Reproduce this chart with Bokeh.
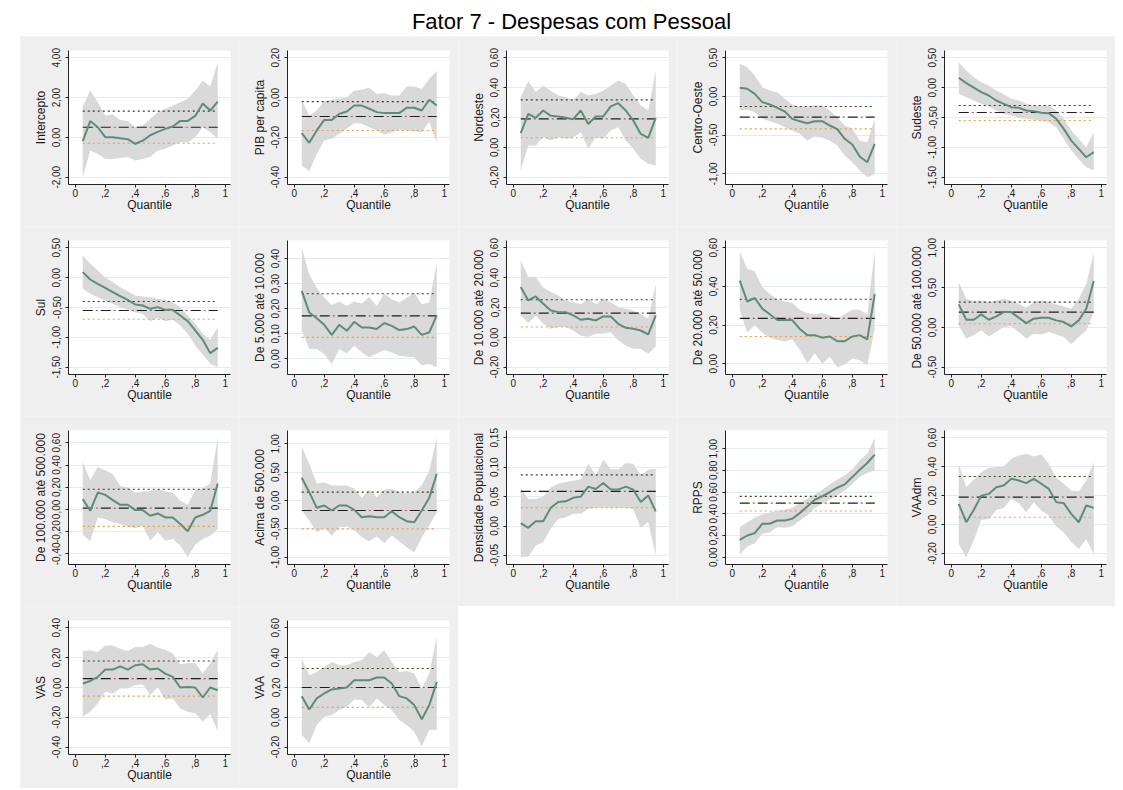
from bokeh.plotting import figure
from bokeh.layouts import column, row, Spacer
from bokeh.models import Range1d, FixedTicker, CustomJSTickFormatter, Label
from bokeh.embed import file_html
from bokeh.resources import INLINE

TITLE = "Fator 7 - Despesas com Pessoal"
quantiles = [0.05, 0.10, 0.15, 0.20, 0.25, 0.30, 0.35, 0.40, 0.45, 0.50,
             0.55, 0.60, 0.65, 0.70, 0.75, 0.80, 0.85, 0.90, 0.95]
x_ticks = [0, 0.2, 0.4, 0.6, 0.8, 1.0]

# ---- Intercepto
intercepto_coef = [-0.19, 0.82, 0.51, 0.01, 0.01, -0.04, -0.09, -0.32, -0.16, 0.11, 0.28, 0.43, 0.55, 0.83, 0.83, 1.08, 1.70, 1.35, 1.80]
intercepto_hi = [1.55, 2.36, 1.77, 1.10, 1.15, 0.88, 0.82, 0.51, 0.60, 0.93, 1.27, 1.44, 1.59, 1.77, 1.94, 2.36, 2.86, 2.56, 3.78]
intercepto_lo = [-2.0, -0.66, -0.83, -1.09, -1.08, -1.04, -0.99, -1.16, -1.08, -0.99, -0.66, -0.58, -0.41, -0.24, -0.26, 0.01, 0.51, 0.26, -0.07]
intercepto_ols = [0.51, -0.29, 1.32]
intercepto_ticks = [-2, 0, 2, 4]

# ---- PIB per capita
pib_coef = [-0.179, -0.227, -0.165, -0.112, -0.112, -0.082, -0.070, -0.040, -0.040, -0.056, -0.073, -0.078, -0.078, -0.078, -0.051, -0.051, -0.065, -0.011, -0.040]
pib_hi = [-0.015, -0.090, -0.065, -0.018, -0.009, -0.006, 0.002, 0.036, 0.040, 0.050, 0.019, 0.022, 0.010, 0.010, 0.056, 0.056, 0.044, 0.094, 0.133]
pib_lo = [-0.341, -0.370, -0.283, -0.216, -0.207, -0.182, -0.157, -0.128, -0.132, -0.149, -0.165, -0.185, -0.174, -0.162, -0.165, -0.169, -0.174, -0.123, -0.224]
pib_ols = [-0.095, -0.165, -0.020]
pib_ticks = [-0.4, -0.2, 0, 0.2]

# ---- Nordeste
nordeste_coef = [0.095, 0.225, 0.198, 0.247, 0.211, 0.207, 0.198, 0.189, 0.247, 0.157, 0.207, 0.207, 0.274, 0.296, 0.247, 0.180, 0.090, 0.064, 0.198]
nordeste_hi = [0.336, 0.444, 0.370, 0.415, 0.380, 0.347, 0.336, 0.318, 0.370, 0.347, 0.359, 0.380, 0.415, 0.448, 0.426, 0.347, 0.280, 0.247, 0.515]
nordeste_lo = [-0.155, 0.012, 0.012, 0.068, 0.046, 0.068, 0.057, 0.064, 0.102, -0.010, 0.068, 0.057, 0.113, 0.135, 0.046, -0.010, -0.077, -0.110, -0.122]
nordeste_ols = [0.191, 0.064, 0.318]
nordeste_ticks = [-0.2, 0, 0.2, 0.4, 0.6]

# ---- Centro-Oeste
centro_coef = [0.112, 0.100, 0.034, -0.073, -0.103, -0.147, -0.194, -0.289, -0.319, -0.345, -0.319, -0.319, -0.375, -0.422, -0.547, -0.620, -0.776, -0.849, -0.612]
centro_hi = [0.422, 0.379, 0.272, 0.121, 0.078, 0.056, -0.030, -0.103, -0.129, -0.129, -0.116, -0.116, -0.181, -0.267, -0.375, -0.418, -0.569, -0.590, -0.289]
centro_lo = [-0.181, -0.172, -0.203, -0.289, -0.319, -0.353, -0.397, -0.440, -0.483, -0.569, -0.517, -0.534, -0.569, -0.634, -0.763, -0.849, -0.957, -1.043, -1.000]
centro_ols = [-0.267, -0.418, -0.129]
centro_ticks = [-1.0, -0.5, 0, 0.5]

# ---- Sudeste
sudeste_coef = [0.165, 0.075, 0.000, -0.075, -0.131, -0.215, -0.271, -0.327, -0.338, -0.383, -0.394, -0.422, -0.427, -0.522, -0.690, -0.886, -1.025, -1.165, -1.080]
sudeste_hi = [0.427, 0.288, 0.176, 0.092, 0.036, -0.047, -0.115, -0.187, -0.215, -0.271, -0.299, -0.299, -0.299, -0.383, -0.522, -0.718, -0.858, -0.997, -0.746]
sudeste_lo = [-0.103, -0.159, -0.215, -0.271, -0.316, -0.383, -0.439, -0.466, -0.506, -0.522, -0.539, -0.550, -0.578, -0.662, -0.858, -1.053, -1.193, -1.332, -1.388]
sudeste_ols = [-0.416, -0.550, -0.299]
sudeste_ticks = [-1.5, -1.0, -0.5, 0, 0.5]

# ---- Sul
sul_coef = [0.092, -0.031, -0.103, -0.170, -0.243, -0.310, -0.372, -0.450, -0.466, -0.522, -0.494, -0.539, -0.539, -0.634, -0.729, -0.885, -1.042, -1.265, -1.176]
sul_hi = [0.371, 0.232, 0.120, 0.008, -0.075, -0.159, -0.226, -0.299, -0.316, -0.327, -0.355, -0.372, -0.411, -0.494, -0.634, -0.774, -0.941, -1.042, -0.830]
sul_lo = [-0.187, -0.271, -0.327, -0.383, -0.439, -0.494, -0.539, -0.578, -0.606, -0.729, -0.673, -0.729, -0.707, -0.802, -0.941, -1.137, -1.288, -1.444, -1.500]
sul_ols = [-0.550, -0.696, -0.399]
sul_ticks = [-1.5, -1.0, -0.5, 0, 0.5]

# ---- De 5.000 até 10.000
p5k_coef = [0.271, 0.185, 0.162, 0.136, 0.096, 0.136, 0.112, 0.148, 0.125, 0.125, 0.119, 0.143, 0.132, 0.115, 0.119, 0.129, 0.096, 0.106, 0.174]
p5k_hi = [0.443, 0.337, 0.284, 0.244, 0.215, 0.229, 0.211, 0.229, 0.221, 0.247, 0.211, 0.260, 0.238, 0.225, 0.244, 0.264, 0.218, 0.225, 0.383]
p5k_lo = [0.112, 0.040, 0.040, 0.020, -0.020, 0.040, 0.022, 0.053, 0.026, 0.007, 0.022, 0.036, 0.026, 0.013, 0.009, 0.007, -0.026, -0.020, -0.033]
p5k_ols = [0.172, 0.086, 0.260]
p5k_ticks = [0, 0.1, 0.2, 0.3, 0.4]

# ---- De 10.000 até 20.000
p10k_coef = [0.337, 0.247, 0.274, 0.225, 0.180, 0.169, 0.169, 0.147, 0.118, 0.125, 0.113, 0.140, 0.140, 0.091, 0.064, 0.058, 0.046, 0.020, 0.147]
p10k_hi = [0.515, 0.404, 0.404, 0.332, 0.303, 0.281, 0.247, 0.236, 0.221, 0.258, 0.221, 0.258, 0.236, 0.203, 0.192, 0.180, 0.158, 0.125, 0.359]
p10k_lo = [0.147, 0.096, 0.147, 0.091, 0.058, 0.069, 0.069, 0.046, 0.013, 0.002, 0.024, 0.024, 0.035, -0.021, -0.054, -0.076, -0.076, -0.110, -0.061]
p10k_ols = [0.162, 0.069, 0.252]
p10k_ticks = [-0.2, 0, 0.2, 0.4, 0.6]

# ---- De 20.000 até 50.000
p20k_coef = [0.430, 0.322, 0.340, 0.285, 0.256, 0.226, 0.226, 0.226, 0.180, 0.148, 0.148, 0.135, 0.141, 0.117, 0.117, 0.141, 0.148, 0.126, 0.361]
p20k_hi = [0.582, 0.491, 0.479, 0.397, 0.361, 0.334, 0.322, 0.316, 0.280, 0.262, 0.256, 0.262, 0.249, 0.231, 0.256, 0.280, 0.280, 0.253, 0.587]
p20k_lo = [0.280, 0.162, 0.199, 0.162, 0.135, 0.123, 0.117, 0.126, 0.072, 0.003, 0.054, 0.000, 0.036, -0.018, -0.004, 0.027, 0.018, -0.009, 0.180]
p20k_ols = [0.235, 0.141, 0.334]
p20k_ticks = [0, 0.2, 0.4, 0.6]

# ---- De 50.000 até 100.000
p50k_coef = [0.289, 0.096, 0.096, 0.163, 0.096, 0.138, 0.192, 0.192, 0.121, 0.054, 0.109, 0.121, 0.121, 0.088, 0.067, 0.013, 0.088, 0.234, 0.582]
p50k_hi = [0.569, 0.360, 0.331, 0.339, 0.318, 0.339, 0.360, 0.339, 0.297, 0.247, 0.318, 0.339, 0.318, 0.289, 0.264, 0.234, 0.360, 0.548, 0.933]
p50k_lo = [0.025, -0.142, -0.100, -0.038, -0.113, -0.059, 0.004, 0.013, -0.059, -0.142, -0.079, -0.088, -0.059, -0.088, -0.121, -0.213, -0.121, -0.038, 0.192]
p50k_ols = [0.192, 0.046, 0.318]
p50k_ticks = [-0.5, 0, 0.5, 1.0]

# ---- De 100.000 até 500.000
p100k_coef = [0.093, -0.012, 0.152, 0.131, 0.084, 0.042, 0.042, -0.006, -0.006, -0.057, -0.036, -0.072, -0.072, -0.131, -0.197, -0.072, -0.048, -0.012, 0.233]
p100k_hi = [0.430, 0.263, 0.382, 0.352, 0.316, 0.212, 0.197, 0.152, 0.161, 0.167, 0.182, 0.161, 0.152, 0.078, 0.042, 0.173, 0.191, 0.233, 0.645]
p100k_lo = [-0.227, -0.287, -0.072, -0.087, -0.116, -0.131, -0.155, -0.167, -0.146, -0.281, -0.206, -0.281, -0.266, -0.325, -0.430, -0.316, -0.266, -0.236, -0.176]
p100k_ols = [0.012, -0.152, 0.182]
p100k_ticks = [-0.4, -0.2, 0, 0.2, 0.4, 0.6]

# ---- Acima de 500.000
p500k_coef = [0.400, 0.147, -0.129, -0.088, -0.176, -0.088, -0.088, -0.165, -0.294, -0.276, -0.294, -0.294, -0.188, -0.294, -0.365, -0.382, -0.176, 0.047, 0.471]
p500k_hi = [0.953, 0.647, 0.294, 0.324, 0.265, 0.265, 0.265, 0.206, 0.047, 0.188, 0.059, 0.188, 0.206, 0.147, 0.129, 0.147, 0.265, 0.529, 1.106]
p500k_lo = [-0.176, -0.353, -0.559, -0.482, -0.618, -0.471, -0.459, -0.518, -0.647, -0.718, -0.635, -0.753, -0.618, -0.718, -0.824, -0.912, -0.647, -0.441, -0.206]
p500k_ols = [-0.176, -0.500, 0.147]
p500k_ticks = [-1.0, -0.5, 0, 0.5, 1.0]

# ---- Densidade Populacional
dens_coef = [0.005, -0.003, 0.008, 0.008, 0.031, 0.041, 0.042, 0.048, 0.050, 0.067, 0.063, 0.073, 0.062, 0.062, 0.067, 0.062, 0.041, 0.052, 0.025]
dens_hi = [0.065, 0.046, 0.046, 0.050, 0.066, 0.072, 0.075, 0.077, 0.079, 0.106, 0.086, 0.113, 0.097, 0.096, 0.107, 0.106, 0.086, 0.096, 0.097]
dens_lo = [-0.053, -0.052, -0.033, -0.027, -0.004, 0.012, 0.015, 0.021, 0.021, 0.029, 0.031, 0.031, 0.031, 0.031, 0.031, 0.029, -0.003, 0.007, -0.050]
dens_ols = [0.059, 0.031, 0.087]
dens_ticks = [-0.05, 0, 0.05, 0.10, 0.15]

# ---- RPPS
rpps_coef = [0.160, 0.200, 0.222, 0.308, 0.308, 0.338, 0.338, 0.354, 0.406, 0.468, 0.529, 0.560, 0.600, 0.640, 0.671, 0.738, 0.806, 0.868, 0.945]
rpps_hi = [0.277, 0.323, 0.363, 0.394, 0.415, 0.425, 0.437, 0.455, 0.498, 0.538, 0.578, 0.622, 0.671, 0.714, 0.754, 0.806, 0.892, 0.954, 1.100]
rpps_lo = [0.025, 0.098, 0.129, 0.215, 0.231, 0.277, 0.271, 0.283, 0.338, 0.385, 0.455, 0.492, 0.529, 0.569, 0.615, 0.671, 0.738, 0.775, 0.800]
rpps_ols = [0.498, 0.425, 0.560]
rpps_ticks = [0, 0.2, 0.4, 0.6, 0.8, 1.0]

# ---- VAAdm
vaadm_coef = [0.143, 0.016, 0.101, 0.200, 0.212, 0.258, 0.270, 0.316, 0.305, 0.286, 0.316, 0.282, 0.247, 0.155, 0.148, 0.074, 0.016, 0.132, 0.115]
vaadm_hi = [0.420, 0.258, 0.309, 0.362, 0.393, 0.397, 0.402, 0.455, 0.478, 0.490, 0.471, 0.485, 0.420, 0.323, 0.282, 0.235, 0.231, 0.305, 0.432]
vaadm_lo = [-0.134, -0.226, -0.111, 0.032, 0.039, 0.101, 0.115, 0.178, 0.148, 0.085, 0.155, 0.097, 0.062, -0.014, -0.053, -0.122, -0.169, -0.100, -0.203]
vaadm_ols = [0.189, 0.050, 0.332]
vaadm_ticks = [-0.2, 0, 0.2, 0.4, 0.6]

# ---- VAS
vas_coef = [0.027, 0.044, 0.071, 0.120, 0.120, 0.142, 0.120, 0.149, 0.156, 0.120, 0.127, 0.093, 0.071, 0.000, 0.004, 0.000, -0.067, 0.000, -0.018]
vas_hi = [0.244, 0.249, 0.238, 0.282, 0.282, 0.260, 0.244, 0.271, 0.271, 0.293, 0.267, 0.253, 0.227, 0.156, 0.164, 0.164, 0.093, 0.160, 0.253]
vas_lo = [-0.196, -0.162, -0.107, -0.029, -0.040, -0.007, -0.007, 0.016, 0.022, -0.051, 0.004, -0.080, -0.073, -0.140, -0.162, -0.173, -0.229, -0.178, -0.289]
vas_ols = [0.060, -0.058, 0.178]
vas_ticks = [-0.4, -0.2, 0, 0.2, 0.4]

# ---- VAA
vaa_coef = [0.142, 0.053, 0.127, 0.160, 0.187, 0.193, 0.200, 0.249, 0.249, 0.249, 0.267, 0.267, 0.227, 0.142, 0.127, 0.082, -0.013, 0.082, 0.238]
vaa_hi = [0.393, 0.282, 0.304, 0.338, 0.371, 0.349, 0.349, 0.371, 0.382, 0.438, 0.404, 0.449, 0.371, 0.304, 0.311, 0.293, 0.193, 0.293, 0.542]
vaa_lo = [-0.118, -0.173, -0.051, 0.004, 0.016, 0.049, 0.071, 0.120, 0.116, 0.067, 0.127, 0.082, 0.049, -0.018, -0.051, -0.096, -0.196, -0.084, -0.084]
vaa_ols = [0.200, 0.067, 0.327]
vaa_ticks = [-0.2, 0, 0.2, 0.4, 0.6]

panel_labels = ["Intercepto", "PIB per capita", "Nordeste", "Centro-Oeste", "Sudeste",
                "Sul", "De 5.000 até 10.000", "De 10.000 até 20.000", "De 20.000 até 50.000",
                "De 50.000 até 100.000", "De 100.000 até 500.000", "Acima de 500.000",
                "Densidade Populacional", "RPPS", "VAAdm", "VAS", "VAA"]
panel_data = [
    (intercepto_coef, intercepto_lo, intercepto_hi, intercepto_ols, intercepto_ticks),
    (pib_coef, pib_lo, pib_hi, pib_ols, pib_ticks),
    (nordeste_coef, nordeste_lo, nordeste_hi, nordeste_ols, nordeste_ticks),
    (centro_coef, centro_lo, centro_hi, centro_ols, centro_ticks),
    (sudeste_coef, sudeste_lo, sudeste_hi, sudeste_ols, sudeste_ticks),
    (sul_coef, sul_lo, sul_hi, sul_ols, sul_ticks),
    (p5k_coef, p5k_lo, p5k_hi, p5k_ols, p5k_ticks),
    (p10k_coef, p10k_lo, p10k_hi, p10k_ols, p10k_ticks),
    (p20k_coef, p20k_lo, p20k_hi, p20k_ols, p20k_ticks),
    (p50k_coef, p50k_lo, p50k_hi, p50k_ols, p50k_ticks),
    (p100k_coef, p100k_lo, p100k_hi, p100k_ols, p100k_ticks),
    (p500k_coef, p500k_lo, p500k_hi, p500k_ols, p500k_ticks),
    (dens_coef, dens_lo, dens_hi, dens_ols, dens_ticks),
    (rpps_coef, rpps_lo, rpps_hi, rpps_ols, rpps_ticks),
    (vaadm_coef, vaadm_lo, vaadm_hi, vaadm_ols, vaadm_ticks),
    (vas_coef, vas_lo, vas_hi, vas_ols, vas_ticks),
    (vaa_coef, vaa_lo, vaa_hi, vaa_ols, vaa_ticks),
]

FONT = "Liberation Sans"
TXT = "#1a1a1a"
BG = "#efefef"


def make_panel(label, coef, lo, hi, ols, ticks, last_row):
    ymin = min(min(lo), ticks[0])
    ymax = max(max(hi), ticks[-1])
    pad = (ymax - ymin) * 0.061
    h = 182 if last_row else 190
    p = figure(width=219, height=h, x_range=Range1d(-0.045, 1.035),
               y_range=Range1d(ymin - pad, ymax + pad),
               output_backend="svg", toolbar_location=None,
               min_border_left=48, min_border_right=9, min_border_top=14,
               min_border_bottom=(34 if last_row else 42))
    p.border_fill_color = BG
    p.background_fill_color = "white"
    p.outline_line_color = None

    n = len(quantiles)
    p.varea(x=quantiles, y1=lo, y2=hi, fill_color="#d9d9d9", fill_alpha=1.0)
    # OLS estimate and confidence interval
    p.line(quantiles, [ols[2]] * n, line_color="#3b3b24", line_width=1.1, line_dash="2 3")
    p.line(quantiles, [ols[1]] * n, line_color="#eba045", line_width=1.1, line_dash="2 3")
    p.line(quantiles, [ols[0]] * n, line_color="#1e1e1e", line_width=1.2, line_dash="10 8")
    p.line(quantiles, [ols[0]] * n, line_color="#a85a5a", line_width=1.2, line_dash="2 16",
           line_dash_offset=5)
    # quantile regression estimates
    p.line(quantiles, coef, line_color="#5f8c79", line_width=2)

    p.xaxis.ticker = FixedTicker(ticks=x_ticks)
    p.xaxis.formatter = CustomJSTickFormatter(code="""
        if (tick == 0) return "0";
        if (tick >= 1) return "1";
        return "," + Math.round(tick * 10).toString();
    """)
    p.yaxis.ticker = FixedTicker(ticks=ticks)
    p.yaxis.formatter = CustomJSTickFormatter(code="""
        var s = Math.abs(tick) < 1e-9 ? "0.00" : tick.toFixed(2);
        return s.replace(".", ",");
    """)
    p.xaxis.axis_label = "Quantile"
    p.yaxis.axis_label = label
    p.yaxis.major_label_orientation = "vertical"
    for ax in (p.xaxis, p.yaxis):
        ax.axis_line_color = "#222222"
        ax.major_tick_line_color = "#222222"
        ax.major_tick_out = 3
        ax.major_tick_in = 0
        ax.minor_tick_line_color = None
        ax.major_label_text_font = FONT
        ax.major_label_text_font_size = "10px"
        ax.major_label_text_color = TXT
        ax.axis_label_text_font = FONT
        ax.axis_label_text_font_size = "12px"
        ax.axis_label_text_font_style = "normal"
        ax.axis_label_text_color = TXT
    p.xaxis.major_label_standoff = 1
    p.xaxis.axis_label_standoff = -2
    p.yaxis.major_label_standoff = 5
    p.yaxis.axis_label_standoff = 2
    p.xgrid.visible = False
    p.ygrid.grid_line_color = "#e2ecee"
    p.ygrid.grid_line_width = 1
    return p


figs = []
for i, (label, d) in enumerate(zip(panel_labels, panel_data)):
    figs.append(make_panel(label, d[0], d[1], d[2], d[3], d[4], last_row=(i >= 15)))

rows = [row(*figs[k:k + 5], styles={"background-color": "#f4f4f4"})
        for k in range(0, len(figs), 5)]
grid = column(*rows)

title_fig = figure(width=1115, height=36, x_range=Range1d(0, 1115), y_range=Range1d(0, 36),
                   x_axis_type=None, y_axis_type=None, output_backend="svg",
                   toolbar_location=None, min_border=0)
title_fig.outline_line_color = None
title_fig.border_fill_color = "white"
title_fig.background_fill_color = "white"
title_fig.add_layout(Label(x=571, y=15, text=TITLE, text_align="center",
                           text_baseline="middle", text_font="Liberation Sans",
                           text_font_size="22px", text_color="black"))

layout = column(title_fig, row(Spacer(width=20, height=10), grid))

with open("out.html", "w") as f:
    f.write(file_html(layout, INLINE, title=TITLE))
